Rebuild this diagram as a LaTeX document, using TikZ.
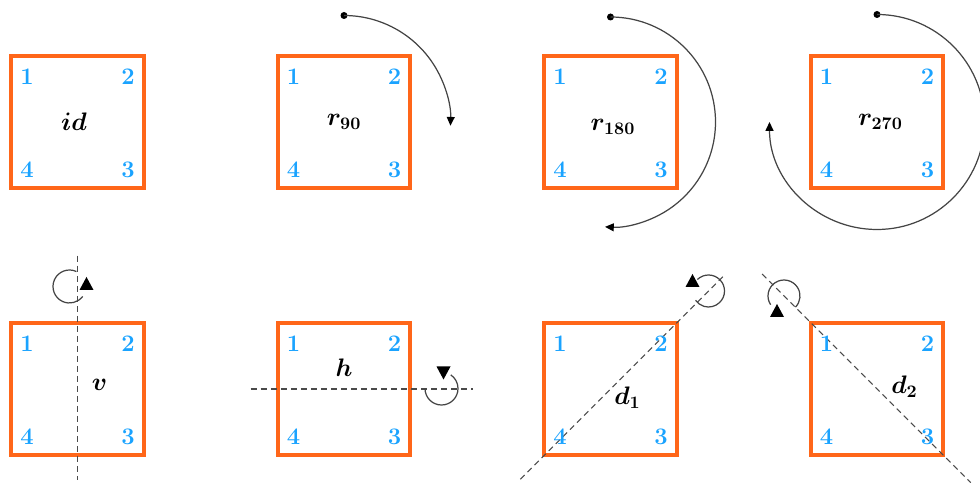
\documentclass[tikz,border=0pt]{standalone}
\usepackage{amsmath, amssymb}
\usepackage{xcolor}
\usetikzlibrary{arrows.meta}
\definecolor{square-orange}{HTML}{FF6619}
\definecolor{vertex-blue}{HTML}{1AA3FF}
\definecolor{axis-gray}{HTML}{4A4A4A}
\definecolor{turn-gray}{HTML}{444444}

\begin{document}
\begin{tikzpicture}[
      sq/.style={draw=square-orange, line width=2.3pt, minimum size=2.65cm, inner sep=0pt},
      num/.style={font=\fontsize{13.5}{15}\selectfont\bfseries, text=vertex-blue, inner sep=1pt},
      elem/.style={font=\fontsize{14.4}{16}\selectfont, inner sep=1pt},
      turn/.style={turn-gray, line width=0.7pt, -{Triangle[length=5pt,width=4.5pt,color=black]}},
      flip/.style={turn-gray, line width=0.7pt},
      axis/.style={axis-gray, line width=0.6pt, dash pattern=on 3.4pt off 2.3pt}]
    \useasboundingbox (0,0) rectangle (19.6,9.64);
    % rotations
    \node[sq] (ID) at (1.55,7.2) {};
    \node[num] (ID1) at ([shift={(-1.01,0.9)}]ID.center) {1};
    \node[num] (ID2) at ([shift={(1.01,0.9)}]ID.center) {2};
    \node[num] (ID3) at ([shift={(1.01,-0.96)}]ID.center) {3};
    \node[num] (ID4) at ([shift={(-1.01,-0.96)}]ID.center) {4};
    \node[elem] (IDl) at ([shift={(-0.07,0)}]ID.center) {$\boldsymbol{id}$};

    \node[sq] (R90) at (6.88,7.2) {};
    \node[num] (R901) at ([shift={(-1.01,0.9)}]R90.center) {1};
    \node[num] (R902) at ([shift={(1.01,0.9)}]R90.center) {2};
    \node[num] (R903) at ([shift={(1.01,-0.96)}]R90.center) {3};
    \node[num] (R904) at ([shift={(-1.01,-0.96)}]R90.center) {4};
    \node[elem] (R90l) at (R90.center) {$\boldsymbol{r_{90}}$};
    \fill ([shift={(90:2.13)}]R90.center) circle (0.07);
    \draw[turn] ([shift={(90:2.13)}]R90.center) arc (90:-2:2.13);

    \node[sq] (R180) at (12.21,7.2) {};
    \node[num] (R1801) at ([shift={(-1.01,0.9)}]R180.center) {1};
    \node[num] (R1802) at ([shift={(1.01,0.9)}]R180.center) {2};
    \node[num] (R1803) at ([shift={(1.01,-0.96)}]R180.center) {3};
    \node[num] (R1804) at ([shift={(-1.01,-0.96)}]R180.center) {4};
    \node[elem] (R180l) at ([shift={(0.05,-0.1)}]R180.center) {$\boldsymbol{r_{180}}$};
    \fill ([shift={(90:2.1)}]R180.center) circle (0.07);
    \draw[turn] ([shift={(90:2.1)}]R180.center) arc (90:-93:2.1);

    \node[sq] (R270) at (17.54,7.2) {};
    \node[num] (R2701) at ([shift={(-1.01,0.9)}]R270.center) {1};
    \node[num] (R2702) at ([shift={(1.01,0.9)}]R270.center) {2};
    \node[num] (R2703) at ([shift={(1.01,-0.96)}]R270.center) {3};
    \node[num] (R2704) at ([shift={(-1.01,-0.96)}]R270.center) {4};
    \node[elem] (R270l) at ([shift={(0.07,0)}]R270.center) {$\boldsymbol{r_{270}}$};
    \fill ([shift={(90:2.15)}]R270.center) circle (0.07);
    \draw[turn] ([shift={(90:2.15)}]R270.center) arc (90:-180:2.15);

    % reflections
    \node[sq] (V) at (1.55,1.86) {};
    \draw[axis, shorten <=-1.3cm, shorten >=-0.46cm] (V.north) -- (V.south);
    \node[num] (V1) at ([shift={(-1.01,0.9)}]V.center) {1};
    \node[num] (V2) at ([shift={(1.01,0.9)}]V.center) {2};
    \node[num] (V3) at ([shift={(1.01,-0.96)}]V.center) {3};
    \node[num] (V4) at ([shift={(-1.01,-0.96)}]V.center) {4};
    \node[elem] (Vl) at ([shift={(0.44,0.08)}]V.center) {$\boldsymbol{v}$};
    \coordinate (Vc) at (1.39,3.91);
    \draw[flip] ([shift={(65:0.33)}]Vc) arc (65:323:0.33);
    \fill (1.59,3.84) -- (1.87,3.84) -- (1.73,4.10) -- cycle;

    \node[sq] (H) at (6.88,1.86) {};
    \draw[axis, shorten <=-0.5cm, shorten >=-1.22cm] (H.west) -- (H.east);
    \node[num] (H1) at ([shift={(-1.01,0.9)}]H.center) {1};
    \node[num] (H2) at ([shift={(1.01,0.9)}]H.center) {2};
    \node[num] (H3) at ([shift={(1.01,-0.96)}]H.center) {3};
    \node[num] (H4) at ([shift={(-1.01,-0.96)}]H.center) {4};
    \node[elem] (Hl) at ([shift={(0,0.42)}]H.center) {$\boldsymbol{h}$};
    \coordinate (Hc) at (8.83,1.87);
    \draw[flip] ([shift={(180:0.33)}]Hc) arc (180:416:0.33);
    \fill (8.73,2.31) -- (9.01,2.31) -- (8.87,2.05) -- cycle;

    \node[sq] (D1) at (12.21,1.86) {};
    \draw[axis, shorten <=-0.62cm, shorten >=-1.32cm] (D1.south west) -- (D1.north east);
    \node[num] (D11) at ([shift={(-1.01,0.9)}]D1.center) {1};
    \node[num] (D12) at ([shift={(1.01,0.9)}]D1.center) {2};
    \node[num] (D13) at ([shift={(1.01,-0.96)}]D1.center) {3};
    \node[num] (D14) at ([shift={(-1.01,-0.96)}]D1.center) {4};
    \node[elem] (D1l) at ([shift={(0.34,-0.18)}]D1.center) {$\boldsymbol{d_1}$};
    \coordinate (D1c) at (14.17,3.82);
    \draw[flip] ([shift={(134:0.32)}]D1c) arc (134:-144:0.32);
    \fill (13.71,3.9) -- (13.99,3.9) -- (13.85,4.16) -- cycle;

    \node[sq] (D2) at (17.54,1.86) {};
    \draw[axis, shorten <=-1.32cm, shorten >=-0.72cm] (D2.north west) -- (D2.south east);
    \node[num] (D21) at ([shift={(-1.01,0.9)}]D2.center) {1};
    \node[num] (D22) at ([shift={(1.01,0.9)}]D2.center) {2};
    \node[num] (D23) at ([shift={(1.01,-0.96)}]D2.center) {3};
    \node[num] (D24) at ([shift={(-1.01,-0.96)}]D2.center) {4};
    \node[elem] (D2l) at ([shift={(0.55,0.04)}]D2.center) {$\boldsymbol{d_2}$};
    \coordinate (D2c) at (15.68,3.72);
    \draw[flip] ([shift={(213:0.32)}]D2c) arc (213:-44:0.32);
    \fill (15.40,3.30) -- (15.68,3.30) -- (15.54,3.56) -- cycle;
  \end{tikzpicture}
\end{document}
